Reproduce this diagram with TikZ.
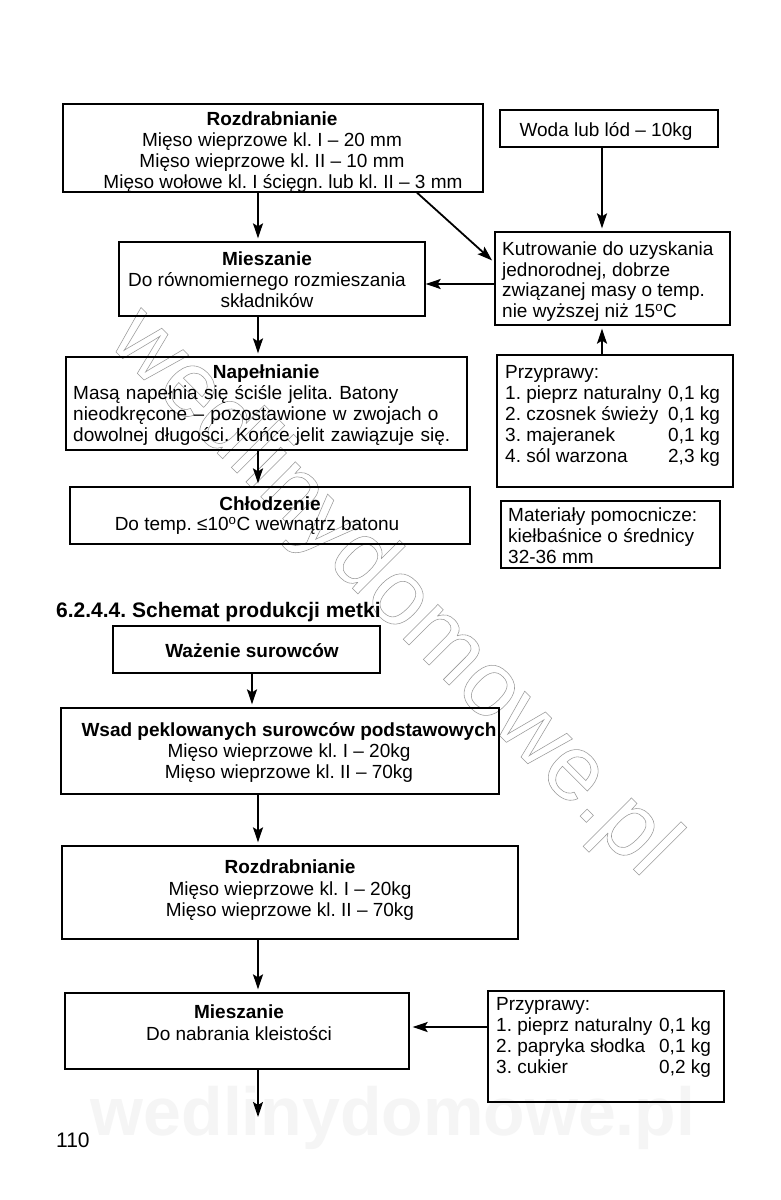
\documentclass[tikz,border=0pt]{standalone}
\usepackage{fontspec}
\setmainfont{Liberation Sans}
\usetikzlibrary{arrows.meta}
\frenchspacing
\begin{document}
\frenchspacing
\begin{tikzpicture}[x=1pt,y=-1pt,
  box/.style={draw, line width=1.3pt, inner sep=0pt},
  txt/.style={inner sep=0pt, font=\frenchspacing\fontsize{19}{21}\selectfont},
  arr/.style={line width=1.8pt, -{Stealth[length=15pt,width=10pt,inset=3pt]}, shorten >=3pt},
  wmark/.style={inner sep=0pt, text=black!40}
]
\useasboundingbox[fill=white] (0,0) rectangle (780,1200);

% watermark
\node[wmark, rotate=-45, font=\fontsize{93}{93}\selectfont] (wm) at (392,594)
  {\special{pdf:literal 1 Tr 0.55 w}wedlinydomowe.pl\special{pdf:literal 0 Tr}};
\node[inner sep=0pt, text=black!4, anchor=base, font=\bfseries\fontsize{68}{68}\selectfont] (wm2) at (393,1135) {wedlinydomowe.pl};

% ---------- upper scheme ----------
\node[box, minimum width=420pt, minimum height=88pt] (rozd1) at (273,148) {};
\node[txt, anchor=north, align=center] (rozd1t) at (272,112)
  {\textbf{Rozdrabnianie}\\Mięso wieprzowe kl. I – 20 mm\\Mięso wieprzowe kl. II – 10 mm\\\hspace*{22pt}Mięso wołowe kl. I ścięgn. lub kl. II – 3 mm};

\node[box, minimum width=218pt, minimum height=37pt] (woda) at (609,128.5) {};
\node[txt, anchor=north] (wodat) at (606,122) {Woda lub lód – 10kg};

\node[box, minimum width=235pt, minimum height=93pt] (kutr) at (612.5,278.5) {};
\node[txt, anchor=north west, align=left, font=\fontsize{19}{20.5}\selectfont] (kutrt) at (502,242)
  {Kutrowanie do uzyskania\\jednorodnej, dobrze\\związanej masy o temp.\\nie wyższej niż 15\textsuperscript{o}C};

\node[box, minimum width=306pt, minimum height=74pt] (mies1) at (272,279) {};
\node[txt, anchor=north, align=center] (mies1t) at (267,252)
  {\textbf{Mieszanie}\\Do równomiernego rozmieszania\\składników};

\node[box, minimum width=401pt, minimum height=93pt] (nape) at (266.5,403.5) {};
\node[txt, anchor=north west, text width=386pt, align=left] (napet) at (73,365)
  {\makebox[386pt]{\textbf{Napełnianie}}\\Masą napełnia się ściśle jelita. Batony\\nieodkręcone – pozostawione w zwojach o\\dowolnej długości. Końce jelit zawiązuje się.};

\node[box, minimum width=400pt, minimum height=57pt] (chlo) at (270,515.5) {};
\node[txt, anchor=north, align=center, font=\fontsize{19}{20}\selectfont] (chlot) at (270,497)
  {\textbf{Chłodzenie}\\Do temp. ≤10\textsuperscript{o}C wewnątrz batonu\hspace*{26pt}};

\node[box, minimum width=236pt, minimum height=132pt] (prz1) at (615,421) {};
\node[txt, anchor=north west] (prz1t) at (505,364)
  {\begin{tabular}{@{}p{163pt}@{}l@{}}
    Przyprawy: & \\
    1. pieprz naturalny & 0,1 kg\\
    2. czosnek świeży & 0,1 kg\\
    3. majeranek & 0,1 kg\\
    4. sól warzona & 2,3 kg
  \end{tabular}};

\node[box, minimum width=219pt, minimum height=67pt] (mat) at (610.5,534.5) {};
\node[txt, anchor=north west, align=left, font=\fontsize{19}{20.7}\selectfont] (matt) at (508,508)
  {Materiały pomocnicze:\\kiełbaśnice o średnicy\\32-36 mm};

\coordinate (sp1) at (258,0);
\coordinate (rx) at (602,0);
\coordinate (dg) at (417,0);
\coordinate (hy) at (0,284);
\draw[arr] (rozd1.south -| sp1) -- (mies1.north -| sp1);
\draw[arr] (mies1.south -| sp1) -- (nape.north -| sp1);
\draw[arr] (nape.south -| sp1) -- (chlo.north -| sp1);
\draw[arr] (woda.south -| rx) -- (kutr.north -| rx);
\draw[arr] (prz1.north -| rx) -- (kutr.south -| rx);
\draw[arr] (rozd1.south -| dg) -- ([yshift=16pt]kutr.west);
\draw[arr, shorten >=0pt] (kutr.west |- hy) -- (mies1.east |- hy);

% ---------- heading ----------
\node[inner sep=0pt, anchor=base west, font=\bfseries\fontsize{21}{25}\selectfont] (head) at (56,617)
  {6.2.4.4. Schemat produkcji metki};

% ---------- lower scheme ----------
\node[box, minimum width=267pt, minimum height=47pt] (waz) at (246.5,649.5) {};
\node[txt, anchor=north, font=\bfseries\fontsize{19}{21}\selectfont] (wazt) at (252,643) {Ważenie surowców};

\node[box, minimum width=438pt, minimum height=86pt] (wsad) at (280,751) {};
\node[txt, anchor=north, align=center] (wsadt) at (289,722)
  {\textbf{Wsad peklowanych surowców podstawowych}\\Mięso wieprzowe kl. I – 20kg\\Mięso wieprzowe kl. II – 70kg};

\node[box, minimum width=456pt, minimum height=93pt] (rozd2) at (290,892.5) {};
\node[txt, anchor=north, align=center, font=\fontsize{19}{21.5}\selectfont] (rozd2t) at (290,860)
  {\textbf{Rozdrabnianie}\\Mięso wieprzowe kl. I – 20kg\\Mięso wieprzowe kl. II – 70kg};

\node[box, minimum width=344pt, minimum height=76pt] (mies2) at (237,1031) {};
\node[txt, anchor=north, align=center, font=\fontsize{19}{21.5}\selectfont] (mies2t) at (239,1005)
  {\textbf{Mieszanie}\\Do nabrania kleistości};

\node[box, minimum width=236pt, minimum height=111pt] (prz2) at (606,1046.5) {};
\node[txt, anchor=north west] (prz2t) at (496,996)
  {\begin{tabular}{@{}p{163pt}@{}l@{}}
    Przyprawy: & \\
    1. pieprz naturalny & 0,1 kg\\
    2. papryka słodka & 0,1 kg\\
    3. cukier & 0,2 kg
  \end{tabular}};

\coordinate (sp2) at (252,0);
\coordinate (hy2) at (0,1027);
\coordinate (endp) at (258,1117);
\draw[arr] (waz.south -| sp2) -- (wsad.north -| sp2);
\draw[arr] (wsad.south -| sp1) -- (rozd2.north -| sp1);
\draw[arr] (rozd2.south -| sp1) -- (mies2.north -| sp1);
\draw[arr, shorten >=0pt] (mies2.south -| sp1) -- (endp);
\draw[arr] (prz2.west |- hy2) -- (mies2.east |- hy2);

% page number
\node[inner sep=0pt, anchor=base west, font=\fontsize{21}{21}\selectfont] (pagenum) at (56,1147) {110};
\end{tikzpicture}
\end{document}
